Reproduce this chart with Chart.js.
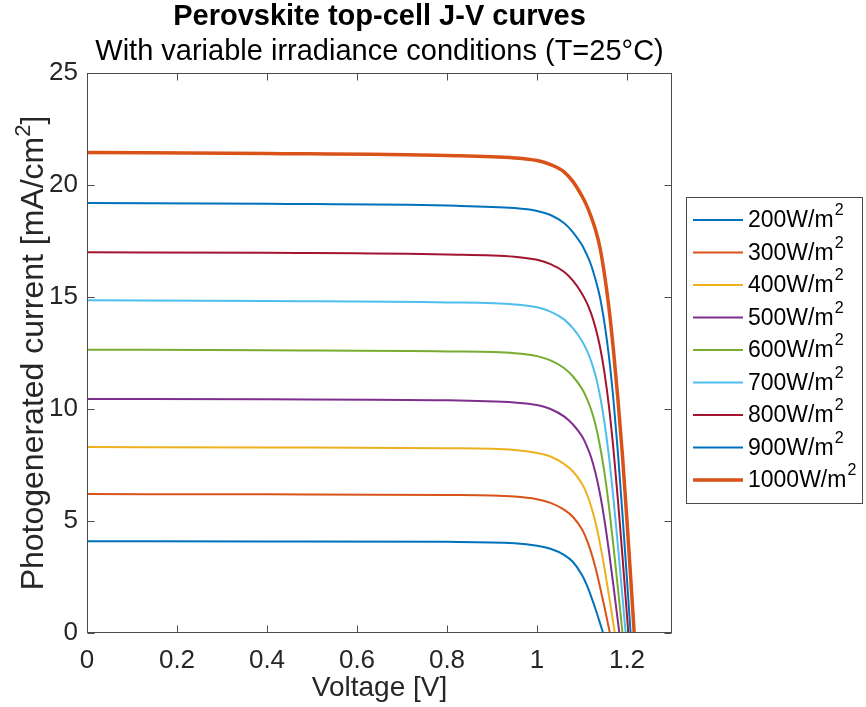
<!DOCTYPE html>
<html><head><meta charset="utf-8">
<script src="https://cdn.jsdelivr.net/npm/chart.js@4/dist/chart.umd.min.js"></script>
<style>html,body{margin:0;padding:0;background:#fff;}#wrap{width:866px;height:707px;position:relative;}</style>
</head><body><div id="wrap"><canvas id="c" width="866" height="707"></canvas></div>
<script>
// ---- data ----
const irradiance = ['200', '300', '400', '500', '600', '700', '800', '900', '1000'];
const voltageGrid = [0, 0.4, 0.8, 0.95, 1.0, 1.03, 1.06, 1.08, 1.10, 1.11, 1.12, 1.13, 1.14, 1.15, 1.16, 1.17, 1.18, 1.19, 1.20, 1.21];
const openCircuitVoltage = [1.147, 1.162, 1.173, 1.183, 1.190, 1.197, 1.203, 1.208, 1.216];
const j200 = [4.10, 4.09, 4.07, 4.01, 3.90, 3.76, 3.49, 3.17, 2.59, 2.17, 1.65, 1.07, 0.44];
const j300 = [6.20, 6.19, 6.16, 6.09, 5.97, 5.81, 5.51, 5.18, 4.63, 4.19, 3.62, 2.91, 2.06, 1.15, 0.19];
const j400 = [8.30, 8.28, 8.25, 8.17, 8.04, 7.88, 7.55, 7.21, 6.66, 6.24, 5.67, 4.93, 3.99, 2.88, 1.66, 0.38];
const j500 = [10.45, 10.43, 10.39, 10.29, 10.18, 10.00, 9.67, 9.31, 8.78, 8.38, 7.86, 7.14, 6.21, 5.03, 3.63, 2.09, 0.48];
const j600 = [12.65, 12.62, 12.57, 12.49, 12.36, 12.17, 11.83, 11.45, 10.90, 10.50, 9.99, 9.30, 8.35, 7.15, 5.63, 3.86, 1.96];
const j700 = [14.85, 14.82, 14.76, 14.67, 14.54, 14.35, 14.00, 13.60, 13.04, 12.65, 12.15, 11.49, 10.59, 9.39, 7.86, 5.98, 3.86, 1.60];
const j800 = [17.00, 16.97, 16.90, 16.80, 16.66, 16.47, 16.13, 15.73, 15.15, 14.77, 14.28, 13.63, 12.78, 11.61, 10.10, 8.18, 5.90, 3.40, 0.78];
const j900 = [19.20, 19.16, 19.08, 18.97, 18.84, 18.66, 18.30, 17.89, 17.32, 16.92, 16.44, 15.78, 14.98, 13.82, 12.33, 10.39, 8.01, 5.28, 2.38];
const j1000 = [21.45, 21.41, 21.32, 21.21, 21.09, 20.91, 20.59, 20.15, 19.50, 19.10, 18.60, 18.00, 17.20, 16.00, 14.50, 12.60, 10.40, 7.90, 5.00, 1.90];
const xTicks = [0, 0.2, 0.4, 0.6, 0.8, 1, 1.2];
const yTicks = [0, 5, 10, 15, 20, 25];

const currents = [j200, j300, j400, j500, j600, j700, j800, j900, j1000];
const colors = ['#0072BD', '#D95319', '#EDB120', '#7E2F8E', '#77AC30', '#4DBEEE', '#A2142F', '#0072BD', '#D95319'];
const widths = [2, 2, 2, 2, 2, 2, 2, 2, 3.5];
const FONT = "'Liberation Sans', Arial, sans-serif";
const TXT = '#262626';
const AXIS = '#4a4a4a';

const datasets = irradiance.map((g, i) => {
  const pts = currents[i].map((j, k) => ({ x: voltageGrid[k], y: j }));
  pts.push({ x: openCircuitVoltage[i], y: 0 });
  return {
    label: g + 'W/m²', data: pts, borderColor: colors[i], backgroundColor: colors[i],
    borderWidth: widths[i], pointRadius: 0, cubicInterpolationMode: 'monotone', fill: false
  };
});

const framePlugin = {
  id: 'frame',
  afterDatasetsDraw(chart) {
    const { ctx, chartArea: a, scales: { x, y } } = chart;
    const L = Math.round(a.left) + 0.5, R = Math.round(a.right) - 0.5;
    const T = Math.round(a.top) + 0.5, B = Math.round(a.bottom) - 0.5;
    ctx.save();
    ctx.strokeStyle = AXIS; ctx.lineWidth = 1;
    ctx.strokeRect(L, T, R - L, B - T);
    ctx.beginPath();
    const tl = 7;
    xTicks.forEach(v => {
      const px = Math.round(x.getPixelForValue(v)) + 0.5;
      ctx.moveTo(px, B); ctx.lineTo(px, B - tl);
      ctx.moveTo(px, T); ctx.lineTo(px, T + tl);
    });
    yTicks.forEach(v => {
      const py = Math.round(y.getPixelForValue(v)) + 0.5;
      ctx.moveTo(L, py); ctx.lineTo(L + tl, py);
      ctx.moveTo(R, py); ctx.lineTo(R - tl, py);
    });
    ctx.stroke();
    ctx.restore();
  },
  afterDraw(chart) {
    const { ctx, chartArea: a } = chart;
    ctx.save();
    // y axis title with superscript
    const main = 'Photogenerated current [mA/cm', sup = '2', tail = ']';
    const fs = 32, sfs = 22;
    ctx.fillStyle = TXT;
    ctx.textBaseline = 'alphabetic';
    ctx.font = fs + 'px ' + FONT;
    const w1 = ctx.measureText(main).width, w3 = ctx.measureText(tail).width;
    ctx.font = sfs + 'px ' + FONT;
    const w2 = ctx.measureText(sup).width;
    const total = w1 + w2 + w3;
    ctx.translate(43, (a.top + a.bottom) / 2);
    ctx.rotate(-Math.PI / 2);
    let cx = -total / 2;
    ctx.font = fs + 'px ' + FONT; ctx.textAlign = 'left';
    ctx.fillText(main, cx, 0); cx += w1;
    ctx.font = sfs + 'px ' + FONT; ctx.fillText(sup, cx, -13); cx += w2;
    ctx.font = fs + 'px ' + FONT; ctx.fillText(tail, cx, 0);
    ctx.restore();

    // legend
    ctx.save();
    const bx = 686.5, by = 197.5, bw = 176, bh = 306;
    ctx.fillStyle = '#fff'; ctx.fillRect(bx, by, bw, bh);
    ctx.strokeStyle = AXIS; ctx.lineWidth = 1; ctx.strokeRect(bx, by, bw, bh);
    const rowH = 32.5, y0 = 220;
    datasets.forEach((d, i) => {
      const yy = y0 + i * rowH;
      ctx.strokeStyle = d.borderColor; ctx.lineWidth = d.borderWidth;
      ctx.beginPath(); ctx.moveTo(693, yy); ctx.lineTo(743, yy); ctx.stroke();
      ctx.fillStyle = '#000'; ctx.textBaseline = 'middle'; ctx.textAlign = 'left';
      ctx.font = '23px ' + FONT;
      const t = irradiance[i] + 'W/m';
      ctx.fillText(t, 748, yy + 1);
      const tw = ctx.measureText(t).width;
      ctx.font = '16px ' + FONT;
      ctx.fillText('2', 748 + tw + 1, yy - 9);
    });
    ctx.restore();
  }
};

new Chart(document.getElementById('c'), {
  type: 'line',
  data: { datasets },
  options: {
    responsive: false, animation: false, devicePixelRatio: 1,
    layout: { padding: { left: 0, right: 107, top: 0, bottom: 0 } },
    plugins: {
      legend: { display: false }, tooltip: { enabled: false },
      title: { display: true, text: 'Perovskite top-cell J-V curves', color: '#000',
        font: { family: FONT, size: 29, weight: 'bold', lineHeight: 1.2 }, padding: { top: 0, bottom: 0 } },
      subtitle: { display: true, text: 'With variable irradiance conditions (T=25°C)', color: '#000',
        font: { family: FONT, size: 29, weight: 'normal', lineHeight: 1.2 }, padding: { top: 0, bottom: 3.4 } }
    },
    scales: {
      x: {
        type: 'linear', min: 0, max: 1.3,
        afterBuildTicks: s => { s.ticks = xTicks.map(v => ({ value: v })); },
        afterFit: s => { s.height = 74; },
        grid: { display: false, drawTicks: false }, border: { display: false },
        ticks: { color: TXT, font: { family: FONT, size: 26 }, padding: 12, maxRotation: 0,
          callback: v => String(v) },
        title: { display: true, text: 'Voltage [V]', color: TXT, font: { family: FONT, size: 28 }, padding: { top: 0, bottom: 2 } }
      },
      y: {
        type: 'linear', min: 0, max: 25,
        afterBuildTicks: s => { s.ticks = yTicks.map(v => ({ value: v })); },
        afterFit: s => { s.width = 87; },
        grid: { display: false, drawTicks: false }, border: { display: false },
        ticks: { color: TXT, font: { family: FONT, size: 26 }, padding: 9 }
      },
      y2: {
        type: 'linear', position: 'right', display: true,
        afterFit: s => { s.width = 87; },
        grid: { display: false, drawTicks: false }, border: { display: false },
        ticks: { display: false }
      }
    }
  },
  plugins: [framePlugin]
});
</script></body></html>
